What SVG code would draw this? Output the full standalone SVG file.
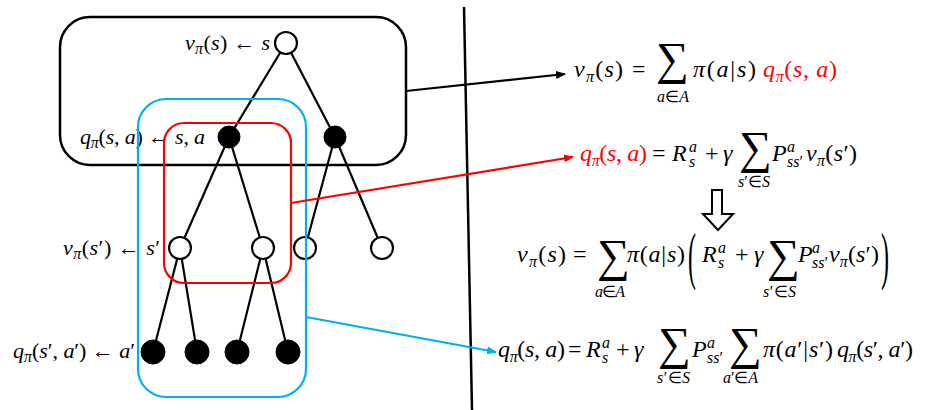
<svg xmlns="http://www.w3.org/2000/svg" width="936" height="410" viewBox="0 0 936 410">
<style>
.m{font-family:"Liberation Serif",serif;font-size:24px;font-style:italic;fill:#000}
.lb{font-family:"Liberation Serif",serif;font-size:22px;font-style:italic;fill:#000}
.n{font-style:normal}
.s{font-size:16px}
.sm{font-family:"Liberation Serif",serif;font-size:16px;font-style:italic;fill:#000}
.sum{font-family:"Liberation Serif",serif;font-size:46px;fill:#000}
.red{fill:#ff0000}
.edge{stroke:#000;stroke-width:2.2;fill:none}
.open{fill:#fff;stroke:#000;stroke-width:2.2}
.full{fill:#000;stroke:#000;stroke-width:1}
</style>
<defs>
<marker id="ak" markerWidth="10" markerHeight="8" refX="9" refY="4" orient="auto" markerUnits="userSpaceOnUse"><path d="M0,0 L10,4 L0,8 z" fill="#000"/></marker>
<marker id="ar" markerWidth="10" markerHeight="8" refX="9" refY="4" orient="auto" markerUnits="userSpaceOnUse"><path d="M0,0 L10,4 L0,8 z" fill="#ff0000"/></marker>
<marker id="ab" markerWidth="10" markerHeight="8" refX="9" refY="4" orient="auto" markerUnits="userSpaceOnUse"><path d="M0,0 L10,4 L0,8 z" fill="#00b0f0"/></marker>
</defs>
<rect width="936" height="410" fill="#fff"/>

<g id="box-v">
<rect x="60" y="17" width="346" height="148" rx="30" ry="30" fill="none" stroke="#000" stroke-width="2.5"/>
</g>

<g id="tree-edges" class="edge">
<line x1="286" y1="43" x2="229" y2="137"/>
<line x1="286" y1="43" x2="335" y2="137"/>
<line x1="229" y1="137" x2="180" y2="248"/>
<line x1="229" y1="137" x2="263" y2="248"/>
<line x1="335" y1="137" x2="305" y2="248"/>
<line x1="335" y1="137" x2="382" y2="248"/>
<line x1="180" y1="248" x2="153" y2="352"/>
<line x1="180" y1="248" x2="197" y2="352"/>
<line x1="263" y1="248" x2="237" y2="352"/>
<line x1="263" y1="248" x2="288" y2="352"/>
</g>

<g id="node-root"><circle class="open" cx="286" cy="43" r="11"/></g>
<g id="node-a1"><circle class="full" cx="229" cy="137" r="11"/></g>
<g id="node-a2"><circle class="full" cx="335" cy="137" r="11"/></g>
<g id="node-s1"><circle class="open" cx="180" cy="248" r="11"/></g>
<g id="node-s2"><circle class="open" cx="263" cy="248" r="11"/></g>
<g id="node-s3"><circle class="open" cx="305" cy="248" r="11"/></g>
<g id="node-s4"><circle class="open" cx="382" cy="248" r="11"/></g>
<g id="node-b1"><circle class="full" cx="153" cy="352" r="12"/></g>
<g id="node-b2"><circle class="full" cx="197" cy="352" r="12"/></g>
<g id="node-b3"><circle class="full" cx="237" cy="352" r="12"/></g>
<g id="node-b4"><circle class="full" cx="288" cy="352" r="12"/></g>

<g id="tree-labels">
<text class="lb" x="185" y="50" textLength="85" lengthAdjust="spacing">v<tspan class="s" dy="4">π</tspan><tspan class="n" dy="-4">(</tspan>s<tspan class="n">) ← </tspan>s</text>
<text class="lb" x="80" y="144" textLength="125" lengthAdjust="spacing">q<tspan class="s" dy="4">π</tspan><tspan class="n" dy="-4">(</tspan>s<tspan class="n">, </tspan>a<tspan class="n">) ← </tspan>s<tspan class="n">, </tspan>a</text>
<text class="lb" x="63" y="255" textLength="97" lengthAdjust="spacing">v<tspan class="s" dy="4">π</tspan><tspan class="n" dy="-4">(</tspan>s<tspan class="n">′) ← </tspan>s<tspan class="n">′</tspan></text>
<text class="lb" x="13" y="358" textLength="122" lengthAdjust="spacing">q<tspan class="s" dy="4">π</tspan><tspan class="n" dy="-4">(</tspan>s<tspan class="n">′, </tspan>a<tspan class="n">′) ← </tspan>a<tspan class="n">′</tspan></text>
</g>

<g id="box-q" fill="none">
<rect x="138" y="99" width="168" height="298" rx="28" ry="28" stroke="#00b0f0" stroke-width="2.2"/>
</g>
<g id="box-vq" fill="none">
<rect x="164" y="123" width="127" height="160" rx="20" ry="20" stroke="#ff0000" stroke-width="2.2"/>
</g>

<g id="divider">
<line x1="464" y1="7" x2="472" y2="410" stroke="#000" stroke-width="2.5"/>
</g>

<g id="connectors" fill="none">
<line x1="406" y1="91" x2="565" y2="74" stroke="#000" stroke-width="2.2" marker-end="url(#ak)"/>
<line x1="291" y1="203" x2="573" y2="157" stroke="#ff0000" stroke-width="2.2" marker-end="url(#ar)"/>
<line x1="306" y1="317" x2="496" y2="352" stroke="#00b0f0" stroke-width="2.2" marker-end="url(#ab)"/>
<polygon points="712,190 722,190 722,214 733,214 718,230 703,214 712,214" fill="#fff" stroke="#000" stroke-width="2"/>
</g>

<g id="eq1">
<text class="m" x="574" y="77" textLength="49" lengthAdjust="spacing">v<tspan class="s" dy="5">π</tspan><tspan class="n" dy="-5">(</tspan>s<tspan class="n">)</tspan></text>
<text class="m n" x="632" y="77">=</text>
<text class="sum" x="656" y="74">∑</text>
<text class="sm" x="657" y="102" textLength="32" lengthAdjust="spacing">a<tspan class="n">∈</tspan>A</text>
<text class="m" x="693" y="77" textLength="63" lengthAdjust="spacing">π<tspan class="n">(</tspan>a<tspan class="n">|</tspan>s<tspan class="n">)</tspan></text>
<text class="m red" x="763" y="77" textLength="74" lengthAdjust="spacing">q<tspan class="s" dy="5">π</tspan><tspan class="n" dy="-5">(</tspan>s<tspan class="n">, </tspan>a<tspan class="n">)</tspan></text>
</g>

<g id="eq2">
<text class="m red" x="580" y="161" textLength="67" lengthAdjust="spacing">q<tspan class="s" dy="5">π</tspan><tspan class="n" dy="-5">(</tspan>s<tspan class="n">, </tspan>a<tspan class="n">)</tspan></text>
<text class="m n" x="652" y="161">=</text>
<text class="m" x="672" y="161">R</text>
<text class="sm" x="689" y="152">a</text>
<text class="sm" x="689" y="167">s</text>
<text class="m n" x="705" y="161">+</text>
<text class="m" x="723" y="161">γ</text>
<text class="sum" x="739" y="163">∑</text>
<text class="sm" x="738" y="187" textLength="32" lengthAdjust="spacing">s<tspan class="n">′∈</tspan>S</text>
<text class="m" x="772" y="161">P</text>
<text class="sm" x="787" y="152">a</text>
<text class="sm" x="787" y="167">ss<tspan class="n">′</tspan></text>
<text class="m" x="806" y="161" textLength="51" lengthAdjust="spacing">v<tspan class="s" dy="5">π</tspan><tspan class="n" dy="-5">(</tspan>s<tspan class="n">′)</tspan></text>
</g>

<g id="eq3">
<text class="m" x="517" y="262" textLength="49" lengthAdjust="spacing">v<tspan class="s" dy="5">π</tspan><tspan class="n" dy="-5">(</tspan>s<tspan class="n">)</tspan></text>
<text class="m n" x="573" y="262">=</text>
<text class="sum" x="597" y="271">∑</text>
<text class="sm" x="595" y="297" textLength="30" lengthAdjust="spacing">a<tspan class="n">∈</tspan>A</text>
<text class="m" x="627" y="262" textLength="58" lengthAdjust="spacing">π<tspan class="n">(</tspan>a<tspan class="n">|</tspan>s<tspan class="n">)</tspan></text>
<text class="m n" transform="translate(688,277) scale(1,2.6)">(</text>
<text class="m" x="702" y="262">R</text>
<text class="sm" x="718" y="253">a</text>
<text class="sm" x="718" y="268">s</text>
<text class="m n" x="735" y="262">+</text>
<text class="m" x="754" y="262">γ</text>
<text class="sum" x="767" y="271">∑</text>
<text class="sm" x="763" y="297" textLength="33" lengthAdjust="spacing">s<tspan class="n">′∈</tspan>S</text>
<text class="m" x="798" y="262">P</text>
<text class="sm" x="812" y="253">a</text>
<text class="sm" x="812" y="268">ss<tspan class="n">′</tspan></text>
<text class="m" x="829" y="262" textLength="50" lengthAdjust="spacing">v<tspan class="s" dy="5">π</tspan><tspan class="n" dy="-5">(</tspan>s<tspan class="n">′)</tspan></text>
<text class="m n" transform="translate(881,277) scale(1,2.6)">)</text>
</g>

<g id="eq4">
<text class="m" x="498" y="357" textLength="67" lengthAdjust="spacing">q<tspan class="s" dy="5">π</tspan><tspan class="n" dy="-5">(</tspan>s<tspan class="n">, </tspan>a<tspan class="n">)</tspan></text>
<text class="m n" x="568" y="357">=</text>
<text class="m" x="586" y="357">R</text>
<text class="sm" x="602" y="348">a</text>
<text class="sm" x="602" y="363">s</text>
<text class="m n" x="616" y="357">+</text>
<text class="m" x="634" y="357">γ</text>
<text class="sum" x="658" y="359">∑</text>
<text class="sm" x="657" y="383" textLength="33" lengthAdjust="spacing">s<tspan class="n">′∈</tspan>S</text>
<text class="m" x="692" y="357">P</text>
<text class="sm" x="707" y="348">a</text>
<text class="sm" x="707" y="363">ss<tspan class="n">′</tspan></text>
<text class="sum" x="729" y="359">∑</text>
<text class="sm" x="723" y="383" textLength="35" lengthAdjust="spacing">a<tspan class="n">′∈</tspan>A</text>
<text class="m" x="763" y="357" textLength="70" lengthAdjust="spacing">π<tspan class="n">(</tspan>a<tspan class="n">′|</tspan>s<tspan class="n">′)</tspan></text>
<text class="m" x="837" y="357" textLength="76" lengthAdjust="spacing">q<tspan class="s" dy="5">π</tspan><tspan class="n" dy="-5">(</tspan>s<tspan class="n">′, </tspan>a<tspan class="n">′)</tspan></text>
</g>
</svg>
